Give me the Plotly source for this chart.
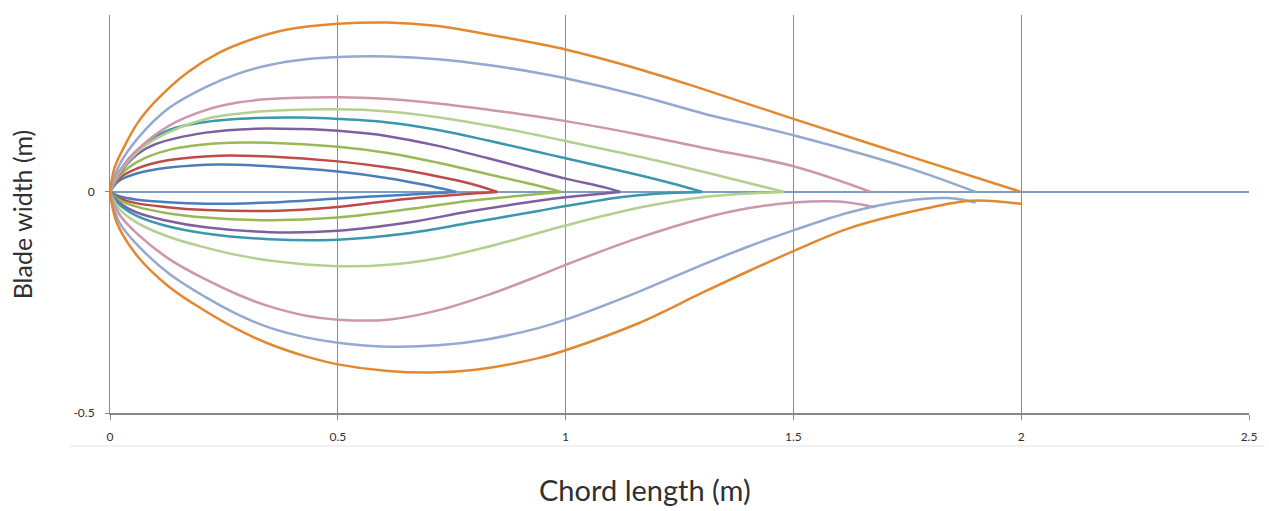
import plotly.graph_objects as go

# ---- Data (chord x in m, blade half-width y in m) ----
orange_upper_x = [0, 0.01, 0.03, 0.06, 0.1, 0.17, 0.24, 0.32, 0.39, 0.5, 0.61, 0.72, 0.83, 0.94, 1.0, 1.16, 1.3, 1.5, 1.75, 2.0]
orange_upper_y = [0, 0.055, 0.1, 0.155, 0.205, 0.27, 0.315, 0.348, 0.367, 0.38, 0.383, 0.375, 0.356, 0.335, 0.322, 0.278, 0.233, 0.165, 0.082, 0.0]
orange_lower_x = [0, 0.015, 0.06, 0.13, 0.21, 0.28, 0.35, 0.43, 0.5, 0.61, 0.72, 0.83, 0.94, 1.0, 1.16, 1.3, 1.4, 1.52, 1.62, 1.78, 1.89, 2.0]
orange_lower_y = [0, -0.07, -0.145, -0.215, -0.27, -0.311, -0.344, -0.372, -0.39, -0.405, -0.408, -0.398, -0.376, -0.358, -0.297, -0.228, -0.18, -0.125, -0.083, -0.04, -0.02, -0.027]

lightblue_upper_x = [0, 0.02, 0.06, 0.13, 0.21, 0.28, 0.35, 0.43, 0.5, 0.61, 0.72, 0.83, 0.94, 1.0, 1.16, 1.3, 1.5, 1.75, 1.9]
lightblue_upper_y = [0, 0.06, 0.12, 0.19, 0.237, 0.267, 0.287, 0.3, 0.305, 0.306, 0.3, 0.287, 0.269, 0.257, 0.218, 0.178, 0.128, 0.055, 0.0]
lightblue_lower_x = [0, 0.02, 0.06, 0.13, 0.21, 0.28, 0.35, 0.43, 0.5, 0.61, 0.72, 0.83, 0.94, 1.0, 1.16, 1.3, 1.4, 1.5, 1.62, 1.74, 1.84, 1.9]
lightblue_lower_y = [0, -0.068, -0.12, -0.185, -0.238, -0.277, -0.307, -0.329, -0.341, -0.35, -0.347, -0.333, -0.308, -0.289, -0.226, -0.165, -0.124, -0.087, -0.047, -0.021, -0.014, -0.024]

pink_upper_x = [0, 0.02, 0.06, 0.13, 0.21, 0.28, 0.35, 0.5, 0.61, 0.72, 0.83, 0.94, 1.0, 1.16, 1.3, 1.5, 1.67]
pink_upper_y = [0, 0.045, 0.095, 0.15, 0.185, 0.202, 0.21, 0.214, 0.21, 0.2, 0.186, 0.17, 0.16, 0.13, 0.1, 0.058, 0.0]
pink_lower_x = [0, 0.02, 0.06, 0.13, 0.21, 0.28, 0.35, 0.43, 0.5, 0.61, 0.72, 0.83, 0.94, 1.0, 1.16, 1.3, 1.4, 1.5, 1.6, 1.68]
pink_lower_y = [0, -0.05, -0.095, -0.152, -0.198, -0.232, -0.259, -0.28, -0.289, -0.289, -0.268, -0.233, -0.19, -0.165, -0.104, -0.06, -0.037, -0.024, -0.022, -0.035]

lightgreen_upper_x = [0, 0.02, 0.06, 0.1, 0.21, 0.32, 0.5, 0.61, 0.72, 0.83, 0.94, 1.0, 1.16, 1.3, 1.48]
lightgreen_upper_y = [0, 0.042, 0.09, 0.12, 0.165, 0.181, 0.187, 0.182, 0.169, 0.15, 0.128, 0.115, 0.08, 0.046, 0.0]
lightgreen_lower_x = [0, 0.02, 0.06, 0.13, 0.21, 0.28, 0.35, 0.5, 0.61, 0.72, 0.83, 0.94, 1.0, 1.16, 1.3, 1.48]
lightgreen_lower_y = [0, -0.038, -0.07, -0.102, -0.126, -0.143, -0.155, -0.168, -0.165, -0.15, -0.124, -0.093, -0.076, -0.036, -0.012, 0.0]

teal_upper_x = [0, 0.02, 0.06, 0.13, 0.21, 0.32, 0.42, 0.5, 0.61, 0.72, 0.83, 0.94, 1.0, 1.16, 1.23, 1.3]
teal_upper_y = [0, 0.045, 0.095, 0.14, 0.158, 0.167, 0.168, 0.165, 0.157, 0.14, 0.116, 0.09, 0.076, 0.038, 0.02, 0.0]
teal_lower_x = [0, 0.02, 0.06, 0.12, 0.21, 0.35, 0.5, 0.65, 0.79, 0.94, 1.0, 1.12, 1.2, 1.3]
teal_lower_y = [0, -0.028, -0.055, -0.076, -0.094, -0.107, -0.108, -0.094, -0.07, -0.043, -0.032, -0.012, -0.004, 0.0]

purple_upper_x = [0, 0.02, 0.06, 0.1, 0.21, 0.32, 0.42, 0.5, 0.61, 0.72, 0.83, 0.94, 1.0, 1.09, 1.12]
purple_upper_y = [0, 0.04, 0.085, 0.108, 0.134, 0.143, 0.142, 0.138, 0.126, 0.104, 0.076, 0.046, 0.03, 0.009, 0.0]
purple_lower_x = [0, 0.02, 0.06, 0.12, 0.21, 0.35, 0.5, 0.65, 0.79, 0.94, 1.0, 1.09, 1.12]
purple_lower_y = [0, -0.024, -0.047, -0.064, -0.08, -0.091, -0.088, -0.07, -0.044, -0.02, -0.012, -0.003, 0.0]

green_upper_x = [0, 0.02, 0.06, 0.13, 0.24, 0.35, 0.5, 0.61, 0.72, 0.83, 0.94, 0.99]
green_upper_y = [0, 0.035, 0.068, 0.095, 0.11, 0.111, 0.102, 0.088, 0.066, 0.04, 0.014, 0.0]
green_lower_x = [0, 0.02, 0.06, 0.12, 0.21, 0.35, 0.5, 0.65, 0.79, 0.94, 0.99]
green_lower_y = [0, -0.018, -0.034, -0.047, -0.058, -0.064, -0.058, -0.04, -0.02, -0.005, 0.0]

red_upper_x = [0, 0.02, 0.06, 0.13, 0.24, 0.35, 0.5, 0.61, 0.72, 0.79, 0.85]
red_upper_y = [0, 0.03, 0.053, 0.072, 0.082, 0.08, 0.069, 0.055, 0.035, 0.019, 0.0]
red_lower_x = [0, 0.02, 0.06, 0.12, 0.21, 0.35, 0.5, 0.65, 0.79, 0.85]
red_lower_y = [0, -0.014, -0.026, -0.034, -0.041, -0.043, -0.034, -0.016, -0.004, 0.0]

blue_upper_x = [0, 0.02, 0.06, 0.13, 0.24, 0.35, 0.5, 0.61, 0.69, 0.76]
blue_upper_y = [0, 0.025, 0.042, 0.055, 0.062, 0.058, 0.046, 0.031, 0.016, 0.0]
blue_lower_x = [0, 0.02, 0.06, 0.12, 0.21, 0.35, 0.5, 0.62, 0.76]
blue_lower_y = [0, -0.01, -0.018, -0.023, -0.027, -0.024, -0.015, -0.008, 0.0]

x_tick_vals = [0, 0.5, 1, 1.5, 2, 2.5]
x_tick_text = ["0", "0.5", "1", "1.5", "2", "2.5"]
y_tick_vals = [-0.5, 0]
y_tick_text = ["-0.5", "0"]

curves = [
    ("#4A7EBB", blue_upper_x, blue_upper_y, blue_lower_x, blue_lower_y),
    ("#BE4B48", red_upper_x, red_upper_y, red_lower_x, red_lower_y),
    ("#98B954", green_upper_x, green_upper_y, green_lower_x, green_lower_y),
    ("#7D60A0", purple_upper_x, purple_upper_y, purple_lower_x, purple_lower_y),
    ("#3A97AE", teal_upper_x, teal_upper_y, teal_lower_x, teal_lower_y),
    ("#B5CF8E", lightgreen_upper_x, lightgreen_upper_y, lightgreen_lower_x, lightgreen_lower_y),
    ("#CC97AA", pink_upper_x, pink_upper_y, pink_lower_x, pink_lower_y),
    ("#93A9CF", lightblue_upper_x, lightblue_upper_y, lightblue_lower_x, lightblue_lower_y),
    ("#E2892F", orange_upper_x, orange_upper_y, orange_lower_x, orange_lower_y),
]

fig = go.Figure()
for color, ux, uy, lx, ly in curves:
    for xs, ys in ((ux, uy), (lx, ly)):
        fig.add_trace(go.Scatter(
            x=xs, y=ys, mode="lines",
            line=dict(color=color, width=2.5, shape="spline", smoothing=1.0),
            showlegend=False, hoverinfo="skip",
        ))

fig.update_layout(
    width=1269, height=511,
    margin=dict(l=110, r=16, t=15, b=98),
    paper_bgcolor="white", plot_bgcolor="white",
    font=dict(family="Lato, 'Open Sans', sans-serif", color="#404040", size=12),
    showlegend=False,
)
fig.update_xaxes(
    range=[0, 2.5], tickvals=x_tick_vals, ticktext=x_tick_text,
    showgrid=True, gridcolor="#8C8C8C", gridwidth=1,
    showline=True, linecolor="#868686", linewidth=2,
    ticks="outside", ticklen=5, tickcolor="#868686",
    ticklabelstandoff=7,
    zeroline=False, tickfont=dict(size=12, color="#303030"),
)
fig.update_yaxes(
    range=[-0.5, 0.4], tickvals=y_tick_vals, ticktext=y_tick_text,
    showgrid=False, zeroline=True, zerolinecolor="#7E9CC2", zerolinewidth=1.5,
    showline=True, linecolor="#8C8C8C", linewidth=1,
    ticks="outside", ticklen=4, tickcolor="#868686",
    ticklabelstandoff=8,
    tickfont=dict(size=12, color="#303030"),
)
fig.add_annotation(
    text="Blade width (m)", xref="paper", yref="paper",
    x=(22 - 110) / 1143, y=0.5, xanchor="center", yanchor="middle", textangle=-90,
    showarrow=False, font=dict(size=25, color="#303030", family="Lato, sans-serif"),
)
fig.add_annotation(
    text="Chord length (m)", xref="paper", yref="paper",
    x=(647 - 110) / 1143, y=(413 - 489) / 398, xanchor="center", yanchor="middle",
    showarrow=False, font=dict(size=29, color="#303030", family="Lato, sans-serif"),
)
fig.add_shape(
    type="line", xref="paper", yref="paper",
    x0=(70 - 110) / 1143, x1=(1269 - 110) / 1143,
    y0=(413 - 446) / 398, y1=(413 - 446) / 398,
    line=dict(color="#E3E3E3", width=1),
)

# remove the default page margin so the 1269x511 figure fills the window exactly
fig.write_html(
    "out.html",
    config={"displayModeBar": False},
    post_script="document.body.style.margin='0';document.body.style.overflow='hidden';",
)
